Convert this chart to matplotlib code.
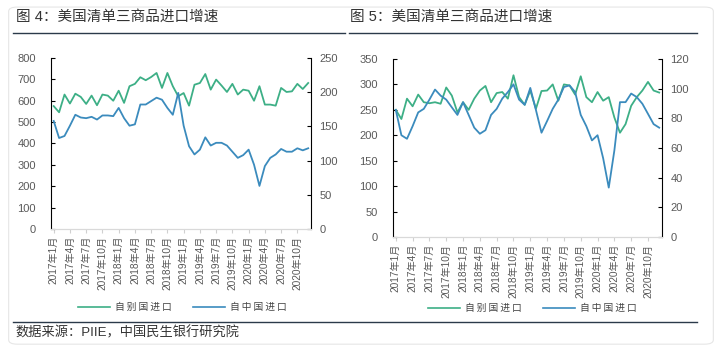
import matplotlib
matplotlib.use("Agg")
import matplotlib.pyplot as plt
from matplotlib.patches import FancyBboxPatch
from matplotlib.lines import Line2D

plt.rcParams['font.family'] = ['Liberation Sans', 'Noto Sans CJK SC', 'DejaVu Sans']

# months 2017-01 .. 2020-12, labels every 3 months
months = [f"{y}年{m}月" for y in range(2017, 2021) for m in range(1, 13)]
tick_pos = list(range(0, 48, 3))
tick_labels = [months[i] for i in tick_pos]

series_names = ["自别国进口", "自中国进口"]

# Figure 4 (left axis 0-800: others, right axis 0-250: China)
fig4_others = [575, 546, 629, 587, 633, 618, 585, 624, 579, 629, 624, 600,
               647, 590, 668, 679, 710, 696, 711, 730, 660, 730, 668, 621,
               636, 577, 675, 683, 725, 652, 699, 671, 641, 679, 629, 652,
               647, 600, 668, 582, 582, 577, 660, 641, 644, 679, 655, 683]
fig4_china = [158, 133, 136, 151, 167, 163, 162, 164, 160, 166, 166, 165,
              177, 162, 151, 153, 182, 182, 187, 192, 189, 177, 167, 199,
              151, 121, 109, 116, 134, 122, 126, 126, 122, 113, 104, 108,
              116, 94, 63, 92, 104, 109, 117, 113, 113, 118, 115, 118]

# Figure 5 (left axis 0-350: others, right axis 0-120: China)
fig5_others = [250, 232, 272, 257, 280, 265, 263, 265, 262, 294, 278, 245,
               265, 250, 272, 288, 297, 265, 283, 285, 272, 318, 275, 260,
               288, 252, 287, 288, 300, 268, 300, 298, 280, 316, 275, 265,
               285, 268, 275, 235, 205, 222, 258, 275, 288, 305, 288, 284]
fig5_china = [85.7, 68.6, 66.2, 74.7, 84.0, 86.4, 92.6, 99.4, 95.3, 92.6, 87.4, 82.3,
              90.9, 82.3, 73.7, 69.6, 72.0, 82.3, 86.4, 93.3, 97.7, 102.9, 92.6, 89.1,
              100.5, 85.7, 70.3, 78.2, 86.4, 92.6, 101.1, 102.2, 97.7, 82.3, 74.7, 65.1,
              68.6, 53.1, 33.3, 58.3, 90.9, 90.9, 96.7, 94.3, 89.8, 83.0, 76.1, 73.7]

green = "#3daf86"
blue = "#3b8bbd"
txt = "#595959"

fig = plt.figure(figsize=(7.22, 3.53), dpi=100)
fig.patch.set_facecolor("white")

card = FancyBboxPatch((0.012, 0.025), 0.976, 0.955, boxstyle="round,pad=0,rounding_size=0.012",
                      transform=fig.transFigure, facecolor="white", edgecolor="#e6e6e6",
                      lw=0.8, zorder=-10)
fig.add_artist(card)


def panel(rect, others, china, ylim_l, step_l, ylim_r, step_r, pad_l):
    ax = fig.add_axes(rect)
    ax2 = ax.twinx()
    x = range(len(months))
    ax.plot(x, others, color=green, lw=1.3, solid_joinstyle="round")
    ax2.plot(x, china, color=blue, lw=1.3, solid_joinstyle="round")
    ax.set_xlim(-0.5, len(months) - 0.5)
    ax.set_ylim(*ylim_l)
    ax2.set_ylim(*ylim_r)
    ax.set_yticks(range(ylim_l[0], ylim_l[1] + 1, step_l))
    ax2.set_yticks(range(ylim_r[0], ylim_r[1] + 1, step_r))
    ax.set_xticks(tick_pos)
    ax.set_xticklabels(tick_labels, rotation=90, fontsize=7.3, color=txt)
    ax.tick_params(axis='x', length=3, color="#d0d0d0", pad=2)
    ax.tick_params(axis='y', direction='in', length=3, labelsize=8, labelcolor=txt, pad=pad_l)
    ax2.tick_params(axis='y', direction='in', length=3, labelsize=8, labelcolor=txt, pad=6)
    for a in (ax, ax2):
        a.spines['top'].set_visible(False)
        a.spines['bottom'].set_color("#d9d9d9")
        a.spines['left'].set_color("black")
        a.spines['right'].set_color("black")
        a.patch.set_alpha(0)
    ax.spines['right'].set_visible(False)
    ax2.spines['left'].set_visible(False)
    return ax


panel([0.0706, 0.3513, 0.360, 0.4844], fig4_others, fig4_china, (0, 800), 100, (0, 250), 50, 11)
panel([0.5443, 0.3286, 0.3726, 0.5043], fig5_others, fig5_china, (0, 350), 50, (0, 120), 20, 11)

# titles and rules
fig.text(0.022, 0.952, "图 4：美国清单三商品进口增速", fontsize=10.5, color="#333333", va="center")
fig.text(0.485, 0.952, "图 5：美国清单三商品进口增速", fontsize=10.5, color="#333333", va="center")
fig.add_artist(Line2D([0.018, 0.478], [0.906, 0.906], color="#2b3a4a", lw=1.0))
fig.add_artist(Line2D([0.483, 0.966], [0.906, 0.906], color="#2b3a4a", lw=1.0))
fig.add_artist(Line2D([0.018, 0.966], [0.088, 0.088], color="#2b3a4a", lw=1.0))
fig.text(0.021, 0.057, "数据来源：PIIE，中国民生银行研究院", fontsize=9.5, color="#333333", va="center")

# legends
def legend_row(xs, y):
    for x0, name, c in zip(xs, series_names, [green, blue]):
        fig.add_artist(Line2D([x0, x0 + 0.044], [y, y], color=c, lw=1.2))
        fig.text(x0 + 0.051, y, "\u2009".join(name), fontsize=7, color="#444444", va="center")

legend_row([0.108, 0.267], 0.130)
legend_row([0.593, 0.752], 0.127)

fig.savefig("out.png", dpi=100)
